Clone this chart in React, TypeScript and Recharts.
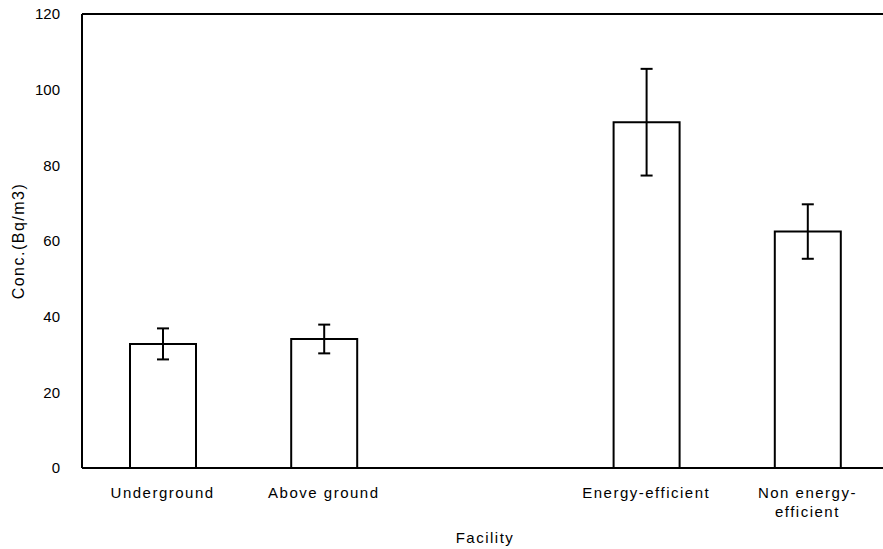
import { BarChart, Bar, XAxis, YAxis, ErrorBar, Label, ReferenceLine } from "recharts";

const categories = ["Underground", "Above ground", "", "Energy-efficient", "Non energy-\nefficient"];
const concValues = [32.8, 34.1, null, 91.4, 62.5];
const concErrors = [4.1, 3.8, null, 14.1, 7.2];
const yTicks = [0, 20, 40, 60, 80, 100, 120];

const data = categories.map((name, i) => ({ name, conc: concValues[i], err: concErrors[i] }));

const FONT = "'Liberation Sans', Arial, sans-serif";

const FacilityTick = (props: any) => {
	const { x, y, payload } = props;
	const lines = String(payload.value).split("\n");
	return (
		<text x={x} y={y + 30} textAnchor="middle" fill="#000" fontSize={15} fontFamily={FONT} letterSpacing={1.5}>
			{lines.map((line, i) => (
				<tspan key={i} x={x} dy={i === 0 ? 0 : 19}>
					{line}
				</tspan>
			))}
		</text>
	);
};

const YTitle = (props: any) => {
	const { viewBox } = props;
	const cy = viewBox.y + viewBox.height / 2;
	return (
		<text
			transform={`translate(18,${cy}) rotate(-90)`}
			textAnchor="middle"
			dominantBaseline="central"
			fill="#000"
			fontSize={16}
			fontFamily={FONT}
			letterSpacing={1.5}
		>
			Conc.(Bq/m3)
		</text>
	);
};

export default function App() {
	return (
		<div style={{ position: "absolute", left: 0, top: 0, width: 883, height: 549, overflow: "hidden", background: "#fff" }}>
			<BarChart width={890} height={549} data={data} margin={{ top: 14, right: 2, left: 0, bottom: 0 }}>
				<XAxis
					dataKey="name"
					height={81}
					axisLine={{ stroke: "#000", strokeWidth: 2 }}
					tickLine={false}
					tickSize={0}
					tickMargin={0}
					interval={0}
					tick={<FacilityTick />}
				>
					<Label
						value="Facility"
						position="insideBottom"
						offset={6}
						style={{ fontSize: 15, fontFamily: FONT, fill: "#000", letterSpacing: 1.5 }}
					/>
				</XAxis>
				<YAxis
					width={82}
					domain={[0, 120]}
					ticks={yTicks}
					interval={0}
					axisLine={{ stroke: "#000", strokeWidth: 2 }}
					tickLine={false}
					tickSize={14}
					tickMargin={8}
					tick={{ fontSize: 15, fontFamily: FONT, fill: "#000" }}
					label={<YTitle />}
				/>
				<ReferenceLine y={120} stroke="#000" strokeWidth={2} />
				<Bar dataKey="conc" barSize={66} fill="#fff" stroke="#000" strokeWidth={2} isAnimationActive={false}>
					<ErrorBar dataKey="err" direction="y" width={6} stroke="#000" strokeWidth={2} isAnimationActive={false} />
				</Bar>
			</BarChart>
		</div>
	);
}
